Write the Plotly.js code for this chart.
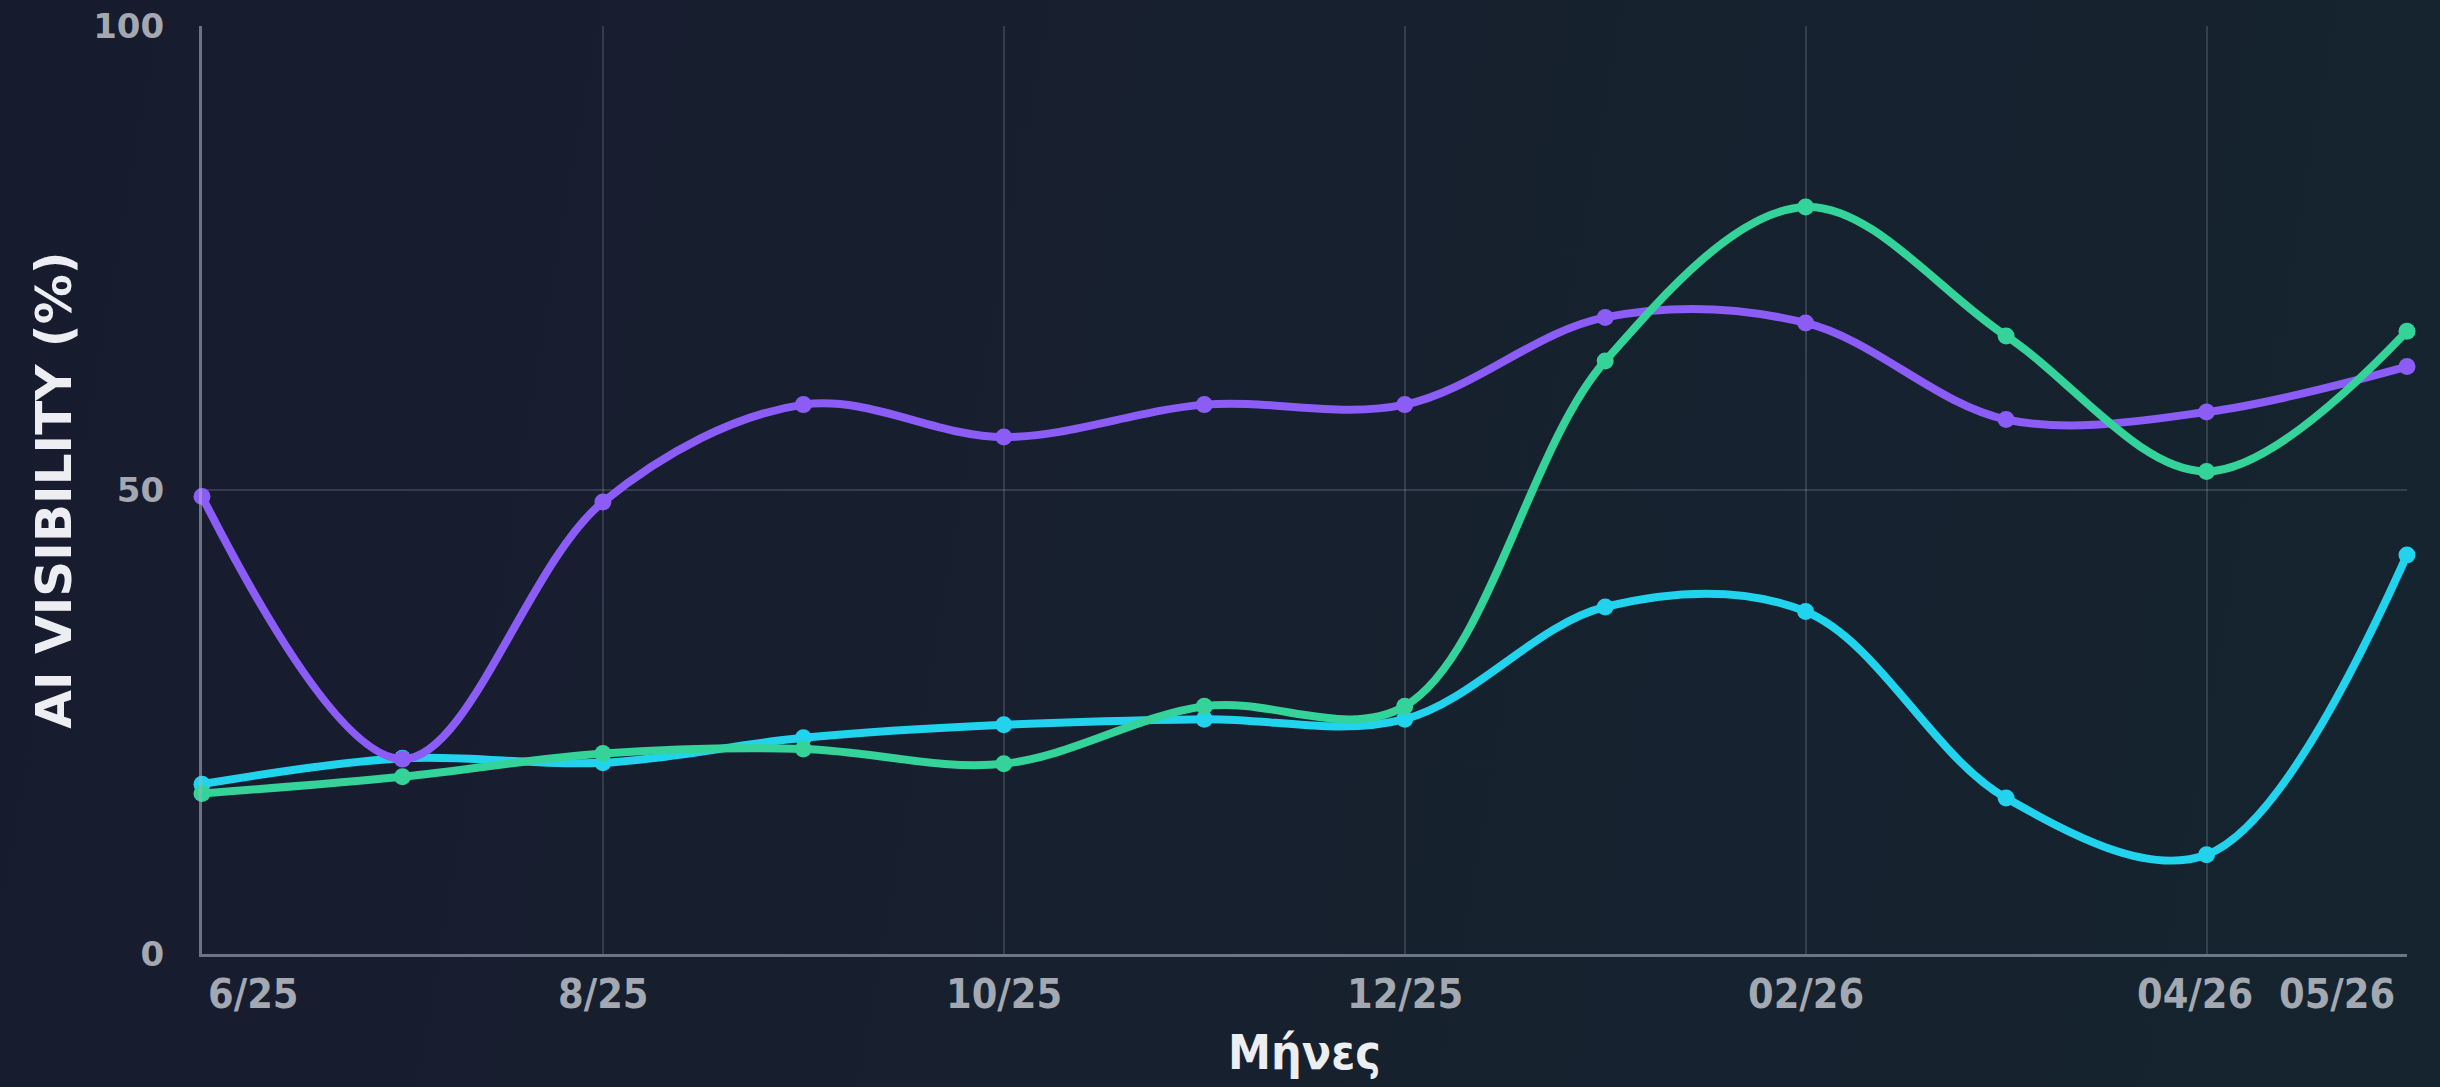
<!DOCTYPE html>
<html>
<head>
<meta charset="utf-8">
<script src="https://cdn.plot.ly/plotly-3.0.1.min.js"></script>
<style>
  html, body { margin: 0; padding: 0; width: 2440px; height: 1087px; overflow: hidden;
    background: linear-gradient(100deg, #171b2e 0%, #17202e 45%, #15242f 100%); }
  #chart { width: 2440px; height: 1087px; }
</style>
</head>
<body>
<div id="chart"></div>
<script>
const months = ['6/25','7/25','8/25','9/25','10/25','11/25','12/25','01/26','02/26','03/26','04/26','05/26'];
const tickLabels = ['6/25','8/25','10/25','12/25','02/26','04/26','05/26'];
const yTicks = [0, 50, 100];

const seriesNames = ['Σειρά Α', 'Σειρά Β', 'Σειρά Γ'];
const purpleValues = [49.3, 21.0, 48.7, 59.2, 55.7, 59.2, 59.2, 68.6, 68.0, 57.6, 58.4, 63.3];
const greenValues  = [17.3, 19.1, 21.6, 22.1, 20.5, 26.7, 26.7, 63.9, 80.5, 66.6, 52.0, 67.1];
const cyanValues   = [18.3, 21.1, 20.6, 23.3, 24.7, 25.3, 25.3, 37.4, 36.9, 16.8, 10.7, 43.0];

const colors = { purple: '#8b5cf6', green: '#34d399', cyan: '#22d3ee' };

function lineTrace(name, values, color) {
  return {
    type: 'scatter', mode: 'lines+markers', name: name,
    x: months, y: values,
    line: { color: color, width: 8, shape: 'spline', smoothing: 1.0 },
    marker: { color: color, size: 17 },
    cliponaxis: false,
    hoverinfo: 'x+y'
  };
}

const data = [
  lineTrace(seriesNames[2], cyanValues, colors.cyan),
  lineTrace(seriesNames[0], purpleValues, colors.purple),
  lineTrace(seriesNames[1], greenValues, colors.green)
];

const tickFont = { family: 'DejaVu Sans Condensed, Liberation Sans Narrow, DejaVu Sans, sans-serif', size: 41, color: '#a3a8b1', weight: 'bold' };

const annotations = tickLabels.map((t, i) => ({
  x: t, xref: 'x', y: 0, yref: 'paper', yanchor: 'middle',
  xanchor: i === 0 ? 'left' : (i === tickLabels.length - 1 ? 'right' : 'center'),
  xshift: i === 0 ? 4 : (i === tickLabels.length - 1 ? -10 : (i === tickLabels.length - 2 ? -12 : 0)),
  yshift: -40,
  text: t, showarrow: false, font: tickFont
}));

const layout = {
  width: 2440, height: 1087,
  margin: { l: 202, r: 33, t: 26, b: 133 },
  paper_bgcolor: 'rgba(0,0,0,0)',
  plot_bgcolor: 'rgba(0,0,0,0)',
  showlegend: false,
  xaxis: {
    type: 'category', range: [0, months.length - 1],
    tickmode: 'array', tickvals: tickLabels, showticklabels: false,
    showgrid: true, gridcolor: 'rgba(200,210,225,0.17)', gridwidth: 2,
    showline: true, linecolor: 'rgba(165,175,190,0.6)', linewidth: 3,
    zeroline: false,
    title: { text: 'Μήνες', standoff: 80,
      font: { family: 'DejaVu Sans Condensed, Liberation Sans Narrow, DejaVu Sans, sans-serif', size: 48, color: '#eceef1', weight: 'bold' } }
  },
  yaxis: {
    range: [0, 100], tickmode: 'array', tickvals: yTicks,
    ticks: 'outside', ticklen: 28, tickcolor: 'rgba(0,0,0,0)',
    tickfont: { family: 'DejaVu Sans, sans-serif', size: 34, color: '#a3a8b1', weight: 'bold' },
    showgrid: true, gridcolor: 'rgba(200,210,225,0.17)', gridwidth: 2,
    showline: true, linecolor: 'rgba(165,175,190,0.6)', linewidth: 3,
    zeroline: false,
    title: { text: 'AI VISIBILITY (%)', standoff: 6,
      font: { family: 'DejaVu Sans, sans-serif', size: 50, color: '#eceef1', weight: 'bold' } }
  },
  annotations: annotations
};

Plotly.newPlot('chart', data, layout, { displayModeBar: false, staticPlot: true });
</script>
</body>
</html>
